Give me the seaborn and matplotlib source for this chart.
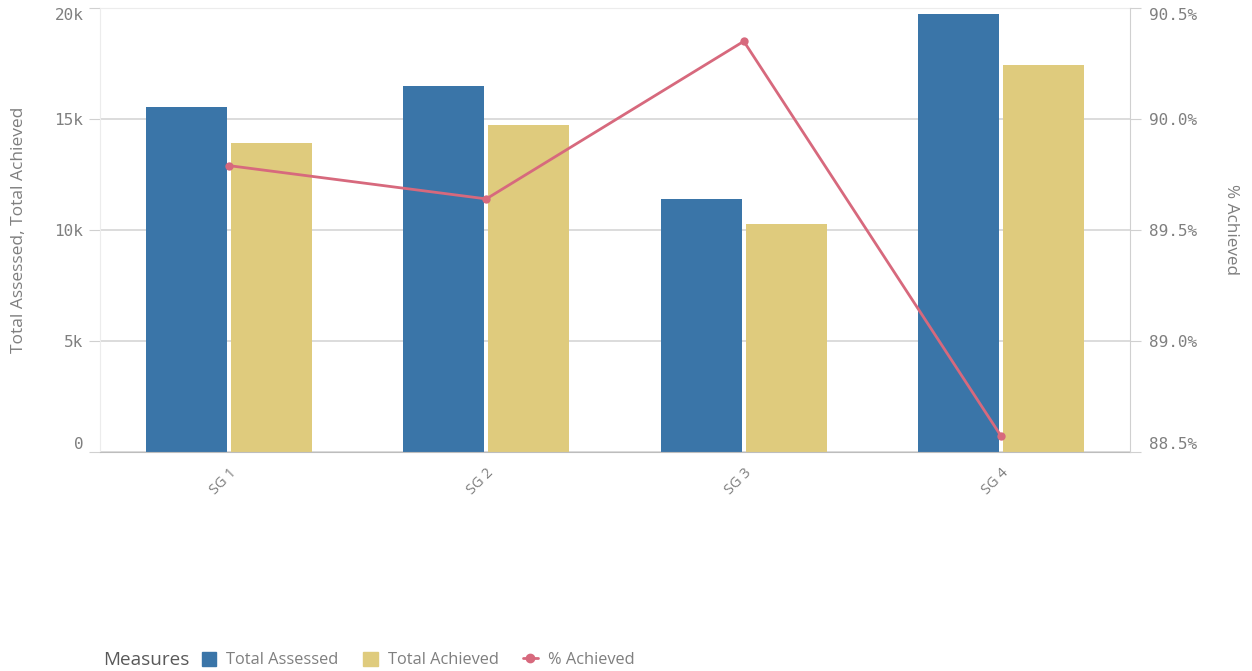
import seaborn as sns
import matplotlib.pyplot as plt
from matplotlib.ticker import FuncFormatter
from matplotlib.lines import Line2D
from matplotlib.patches import Patch
import pandas as pd

groups = ["SG 1", "SG 2", "SG 3", "SG 4"]
total_assessed = [15540, 16490, 11400, 19730]
total_achieved = [13920, 14730, 10270, 17430]
pct_achieved = [89.79, 89.64, 90.35, 88.57]

blue = "#3a75a8"
yellow = "#dfcb7d"
pink = "#d7697d"
grey = "#7f7f7f"

df = pd.DataFrame({
    "group": groups * 2,
    "measure": ["Total Assessed"] * 4 + ["Total Achieved"] * 4,
    "value": total_assessed + total_achieved,
})
line_df = pd.DataFrame({"group": groups, "pct": pct_achieved})

sns.set_style("white")
plt.rcParams["font.family"] = ["Open Sans", "DejaVu Sans"]

fig = plt.figure(figsize=(12.52, 6.71), dpi=100)
ax = fig.add_axes([0.0799, 0.3264, 0.8227, 0.6617])

# bars for the two totals
sns.barplot(data=df, x="group", y="value", hue="measure",
            palette=[blue, yellow], width=0.661, gap=0.047,
            saturation=1, linewidth=0, ax=ax, legend=False)
ax.set_ylim(0, 20000)
ax.set_xlim(-0.5, 3.5)
ax.set_yticks([0, 5000, 10000, 15000, 20000])
ax.yaxis.set_major_formatter(FuncFormatter(lambda v, p: "0" if v == 0 else f"{int(v/1000)}k"))
ax.grid(axis="y", color="#d9d9d9", linewidth=1.3)
ax.set_axisbelow(True)
ax.set_xlabel("")
ax.set_ylabel("Total Assessed, Total Achieved", fontsize=12.5, color=grey, labelpad=20)
for s in ["left", "top"]:
    ax.spines[s].set_color("#ececec")
ax.spines["bottom"].set_color("#bdbdbd")
ax.spines["right"].set_visible(False)
ax.tick_params(axis="y", length=8, color="#d0d0d0", labelcolor=grey, labelsize=11.5, pad=4)
ax.tick_params(axis="x", length=0, labelcolor=grey, labelsize=10.5, pad=10)
for lbl in ax.get_yticklabels():
    lbl.set_fontfamily("DejaVu Sans Mono")
ylbls = ax.get_yticklabels()
ylbls[0].set_va("bottom")
ylbls[-1].set_va("top")
for lbl in ax.get_xticklabels():
    lbl.set_rotation(45)
    lbl.set_ha("right")
    lbl.set_rotation_mode("anchor")

# % achieved on the second axis
ax2 = ax.twinx()
sns.lineplot(data=line_df, x="group", y="pct", color=pink, marker="o",
             markersize=6, markeredgewidth=0, linewidth=2, sort=False, ax=ax2)
ax2.set_ylim(88.5, 90.5)
ax2.set_yticks([88.5, 89.0, 89.5, 90.0, 90.5])
ax2.yaxis.set_major_formatter(FuncFormatter(lambda v, p: f"{v:.1f}%"))
ax2.set_ylabel("% Achieved", fontsize=12.3, color=grey, rotation=270, labelpad=30)
for s in ["left", "top", "bottom"]:
    ax2.spines[s].set_visible(False)
ax2.spines["right"].set_color("#d0d0d0")
ax2.tick_params(axis="y", length=8, color="#d0d0d0", labelcolor=grey, labelsize=11.5, pad=6)
for lbl in ax2.get_yticklabels():
    lbl.set_fontfamily("DejaVu Sans Mono")
rlbls = ax2.get_yticklabels()
rlbls[0].set_va("bottom")
rlbls[-1].set_va("top")
ax2.set_xlim(-0.5, 3.5)
ax2.set_xlabel("")

# legend along the bottom
fig.text(0.082, 0.016, "Measures", fontsize=13.6, color="#595959", va="center")
handles = [
    Patch(color=blue, label="Total Assessed"),
    Patch(color=yellow, label="Total Achieved"),
    Line2D([0], [0], color=pink, marker="o", markersize=6, linewidth=2, label="% Achieved"),
]
leg = fig.legend(handles=handles, loc="center left", bbox_to_anchor=(0.161, 0.016),
                 ncol=3, frameon=False, fontsize=11.8, handlelength=0.9, handleheight=0.9,
                 handletextpad=0.6, columnspacing=1.5, borderaxespad=0, borderpad=0)
for t in leg.get_texts():
    t.set_color(grey)

fig.savefig("out.png", dpi=100)
